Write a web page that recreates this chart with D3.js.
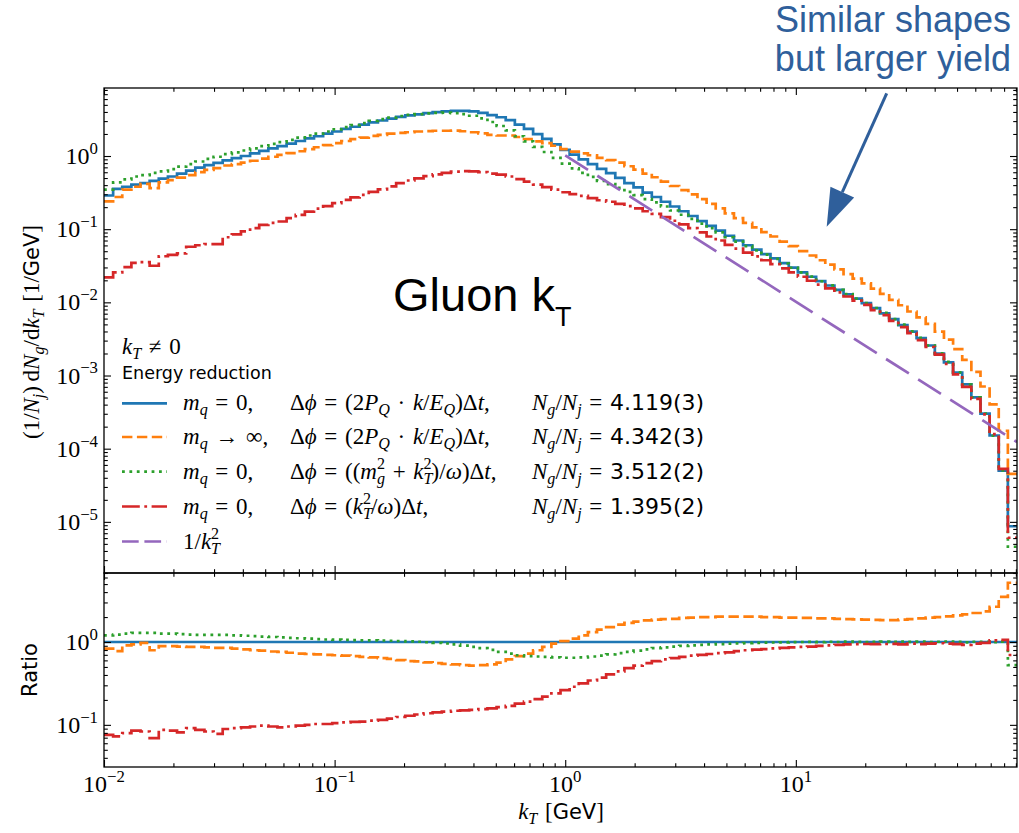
<!DOCTYPE html>
<html>
<head>
<meta charset="utf-8">
<script src="https://cdn.jsdelivr.net/npm/d3@7"></script>
<style>
  body { margin: 0; background: #fff; }
  svg { display: block; }
</style>
</head>
<body>
<svg id="chart" width="1019" height="833"></svg>
<script>
// ---- binning of the kT histograms (log-spaced bins) ----
const kTMin = 0.01, kTMax = 91, nBins = 100;
const binEdges = d3.range(nBins + 1).map(i => kTMin * Math.pow(kTMax / kTMin, i / nBins));

// ---- gluon kT spectrum, m_q = 0 reference (log10 of 1/N_j dN_g/dkT per bin) ----
const log10YieldMq0 = [
  -0.54, -0.45, -0.42, -0.39, -0.37, -0.34, -0.31, -0.28, -0.24, -0.20,
  -0.16, -0.125, -0.095, -0.06, -0.03, 0.00, 0.035, 0.07, 0.105, 0.135,
  0.17, 0.205, 0.24, 0.27, 0.305, 0.335, 0.37, 0.40, 0.43, 0.46,
  0.485, 0.51, 0.535, 0.555, 0.57, 0.585, 0.60, 0.61, 0.617, 0.618,
  0.61, 0.59, 0.56, 0.53, 0.49, 0.43, 0.37, 0.30, 0.235, 0.16,
  0.085, 0.02, -0.045, -0.11, -0.175, -0.235, -0.30, -0.37, -0.43, -0.50,
  -0.56, -0.625, -0.69, -0.755, -0.82, -0.89, -0.955, -1.02, -1.09, -1.155,
  -1.22, -1.28, -1.34, -1.40, -1.465, -1.525, -1.59, -1.65, -1.71, -1.77,
  -1.83, -1.89, -1.95, -2.01, -2.08, -2.15, -2.23, -2.31, -2.40, -2.49,
  -2.59, -2.70, -2.82, -2.96, -3.12, -3.30, -3.52, -3.82, -4.30, -5.06
];

// ---- log10 of the ratio to the m_q = 0 reference, per bin ----
const log10RatioMqInf = [
  -0.08, -0.11, -0.04, -0.03, -0.01, -0.10, -0.05, -0.05, -0.055, -0.06,
  -0.06, -0.065, -0.07, -0.07, -0.08, -0.09, -0.10, -0.105, -0.115, -0.12,
  -0.13, -0.14, -0.145, -0.15, -0.155, -0.16, -0.165, -0.17, -0.18, -0.185,
  -0.195, -0.205, -0.22, -0.23, -0.235, -0.245, -0.255, -0.265, -0.27, -0.28,
  -0.285, -0.28, -0.27, -0.25, -0.21, -0.17, -0.14, -0.10, -0.06, -0.02,
  0.01, 0.04, 0.08, 0.12, 0.15, 0.18, 0.21, 0.23, 0.245, 0.26,
  0.27, 0.275, 0.28, 0.29, 0.295, 0.30, 0.30, 0.305, 0.305, 0.305,
  0.305, 0.305, 0.30, 0.30, 0.295, 0.293, 0.29, 0.29, 0.285, 0.285,
  0.28, 0.275, 0.273, 0.27, 0.268, 0.265, 0.265, 0.27, 0.275, 0.285,
  0.295, 0.30, 0.31, 0.32, 0.333, 0.35, 0.37, 0.425, 0.545, 0.715
];
const log10RatioMgKt = [
  0.08, 0.09, 0.10, 0.11, 0.11, 0.11, 0.10, 0.10, 0.095, 0.09,
  0.085, 0.085, 0.085, 0.085, 0.08, 0.075, 0.07, 0.065, 0.06, 0.055,
  0.05, 0.045, 0.04, 0.035, 0.03, 0.028, 0.025, 0.022, 0.02, 0.02,
  0.018, 0.015, 0.012, 0.008, 0.003, -0.003, -0.01, -0.018, -0.03, -0.045,
  -0.06, -0.075, -0.095, -0.12, -0.14, -0.16, -0.17, -0.175, -0.18, -0.185,
  -0.19, -0.19, -0.185, -0.175, -0.165, -0.15, -0.135, -0.12, -0.105, -0.09,
  -0.075, -0.065, -0.055, -0.048, -0.04, -0.035, -0.03, -0.025, -0.02, -0.016,
  -0.013, -0.01, -0.008, -0.006, -0.004, -0.002, 0.0, 0.002, -0.002, 0.003,
  0.0, 0.004, 0.002, -0.002, 0.003, 0.005, 0.001, 0.006, 0.002, 0.004,
  0.0, 0.003, 0.006, 0.002, -0.004, 0.003, 0.001, -0.003, 0.004, -0.28
];
const log10RatioKt = [
  -1.12, -1.14, -1.10, -1.07, -1.08, -1.16, -1.06, -1.07, -1.09, -1.04,
  -1.06, -1.08, -1.11, -1.05, -1.04, -1.03, -1.02, -1.01, -1.02, -1.03,
  -1.02, -1.01, -1.00, -0.99, -0.99, -0.98, -0.97, -0.965, -0.96, -0.95,
  -0.94, -0.925, -0.905, -0.89, -0.875, -0.86, -0.85, -0.84, -0.83, -0.825,
  -0.82, -0.81, -0.80, -0.785, -0.77, -0.745, -0.72, -0.69, -0.66, -0.62,
  -0.58, -0.54, -0.50, -0.465, -0.43, -0.39, -0.355, -0.315, -0.285, -0.255,
  -0.23, -0.21, -0.195, -0.18, -0.165, -0.155, -0.145, -0.135, -0.125, -0.11,
  -0.10, -0.092, -0.085, -0.078, -0.072, -0.065, -0.06, -0.055, -0.048, -0.04,
  -0.035, -0.03, -0.026, -0.024, -0.025, -0.024, -0.022, -0.03, -0.02, -0.025,
  -0.02, -0.015, -0.02, -0.025, -0.035, -0.02, -0.01, 0.02, 0.025, -0.157
];

// ---- 1/kT^2 reference line (end points) ----
const invKt2K = [1, 91];
const invKt2V = [1.02, 1.23e-4];

// ---- legend figures ----
const multiplicity = ["4.119(3)", "4.342(3)", "3.512(2)", "1.395(2)"];

// ---- axis tick values ----
const xMajorTicks = [0.01, 0.1, 1, 10];
const xTickExponents = ["\u22122", "\u22121", "0", "1"];
const yMainMajorTicks = [1e-5, 1e-4, 1e-3, 1e-2, 1e-1, 1];
const yMainExponents = ["\u22125", "\u22124", "\u22123", "\u22122", "\u22121", "0"];
const yRatioMajorTicks = [0.1, 1];
const yRatioExponents = ["\u22121", "0"];

// ---------------------------------------------------------------
const SERIF = "'Liberation Serif', 'DejaVu Serif', serif";
const SANS = "'DejaVu Sans', sans-serif";
const ARIAL = "'Liberation Sans', Arial, sans-serif";

const svg = d3.select("#chart");
const L = 104, R = 1017, mainTop = 88, mainBottom = 573, ratioBottom = 767;

const x = d3.scaleLog().domain([kTMin, kTMax]).range([L, R]);
const yMain = d3.scaleLog().domain([2e-6, 8.5]).range([mainBottom, mainTop]);
const yRatio = d3.scaleLog().domain([0.031, 6.8]).range([ratioBottom, mainBottom]);

const pow10 = v => Math.pow(10, v);
const yieldMq0 = log10YieldMq0.map(pow10);
const ratioMqInf = log10RatioMqInf.map(pow10);
const ratioMgKt = log10RatioMgKt.map(pow10);
const ratioKt = log10RatioKt.map(pow10);

const series = [
  { color: "#1f77b4", dash: null,           main: yieldMq0,                                 ratio: yieldMq0.map(v => v / v) },
  { color: "#ff7f0e", dash: "10.4,4.5",     main: yieldMq0.map((v, i) => v * ratioMqInf[i]), ratio: ratioMqInf },
  { color: "#2ca02c", dash: "2.8,4.6",      main: yieldMq0.map((v, i) => v * ratioMgKt[i]),  ratio: ratioMgKt },
  { color: "#d62728", dash: "17.8,4.5,2.8,4.5", main: yieldMq0.map((v, i) => v * ratioKt[i]), ratio: ratioKt }
];
const LW = 2.7;

// clip regions
const defs = svg.append("defs");
defs.append("clipPath").attr("id", "clipMain").append("rect")
  .attr("x", L).attr("y", mainTop).attr("width", R - L).attr("height", mainBottom - mainTop);
defs.append("clipPath").attr("id", "clipRatio").append("rect")
  .attr("x", L).attr("y", mainBottom).attr("width", R - L).attr("height", ratioBottom - mainBottom);

function stepPoints(vals) {
  const pts = [];
  vals.forEach((v, i) => { pts.push([binEdges[i], v]); pts.push([binEdges[i + 1], v]); });
  return pts;
}

function drawPanel(yScale, key, clipId) {
  const g = svg.append("g").attr("clip-path", `url(#${clipId})`);
  const line = d3.line().x(d => x(d[0])).y(d => yScale(Math.max(d[1], 1e-9)));
  series.forEach(s => {
    g.append("path")
      .attr("d", line(stepPoints(s[key])))
      .attr("fill", "none")
      .attr("stroke", s.color)
      .attr("stroke-width", LW)
      .attr("stroke-linejoin", "miter")
      .attr("stroke-dasharray", s.dash);
  });
  return g;
}

const mainG = drawPanel(yMain, "main", "clipMain");
// 1/kT^2
mainG.append("path")
  .attr("d", d3.line().x(d => x(d[0])).y(d => yMain(d[1]))(invKt2K.map((k, i) => [k, invKt2V[i]])))
  .attr("fill", "none").attr("stroke", "#9467bd").attr("stroke-width", LW)
  .attr("stroke-dasharray", "27,11");

drawPanel(yRatio, "ratio", "clipRatio");

// ---- axes: inward ticks on all four sides ----
function minorTicks(domain) {
  const out = [];
  const lo = Math.floor(Math.log10(domain[0])), hi = Math.ceil(Math.log10(domain[1]));
  for (let e = lo; e <= hi; e++) for (let m = 2; m <= 9; m++) {
    const v = m * Math.pow(10, e);
    if (v >= domain[0] && v <= domain[1]) out.push(v);
  }
  return out;
}
function ticksGroup(axis, tx, ty) {
  const g = svg.append("g").attr("transform", `translate(${tx},${ty})`).call(axis);
  g.select(".domain").remove();
  g.selectAll("line").attr("stroke", "#000").attr("stroke-width", 1.1);
  g.selectAll("text").remove();
}
function frameAxes(yScale, yMajors, top, bottom) {
  const xm = minorTicks(x.domain()), ym = minorTicks(yScale.domain());
  [[d3.axisBottom, bottom], [d3.axisTop, top]].forEach(([ax, yy]) => {
    ticksGroup(ax(x).tickValues(xMajorTicks).tickSize(-7).tickFormat(""), 0, yy);
    ticksGroup(ax(x).tickValues(xm).tickSize(-3.8).tickFormat(""), 0, yy);
  });
  [[d3.axisLeft, L], [d3.axisRight, R]].forEach(([ax, xx]) => {
    ticksGroup(ax(yScale).tickValues(yMajors).tickSize(-7).tickFormat(""), xx, 0);
    ticksGroup(ax(yScale).tickValues(ym).tickSize(-3.8).tickFormat(""), xx, 0);
  });
  svg.append("rect").attr("x", L).attr("y", top).attr("width", R - L).attr("height", bottom - top)
    .attr("fill", "none").attr("stroke", "#000").attr("stroke-width", 1.3);
}
frameAxes(yMain, yMainMajorTicks, mainTop, mainBottom);
frameAxes(yRatio, yRatioMajorTicks, mainBottom, ratioBottom);

// ---- mixed math text helper ----
// parts: [text, style]; style 'i' italic serif, 'r' roman serif, 's' sans;
// prefix '_' subscript, '^' superscript, suffix '!' stacks over previous script
function drawMath(sel, px, py, parts, size, anchor, extra, sansSize) {
  const t = sel.append("text").attr("x", px).attr("y", py)
    .attr("text-anchor", anchor || "start").attr("fill", "#000");
  if (extra) extra(t);
  let shift = 0, prev = null;
  parts.forEach(([txt, st]) => {
    const level = st[0] === "_" ? -1 : st[0] === "^" ? 1 : 0;
    const stack = st.endsWith("!");
    const kind = st.replace(/[_^!]/g, "");
    const base = kind === "s" && sansSize ? sansSize : size;
    const fs = level ? base * 0.7 : base;
    const target = level === -1 ? size * 0.22 : level === 1 ? -size * 0.42 : 0;
    const ts = t.append("tspan").text(txt)
      .attr("font-size", fs)
      .attr("font-family", kind === "s" ? SANS : SERIF)
      .attr("font-style", kind === "i" ? "italic" : "normal")
      .attr("dy", target - shift);
    if (stack && prev) ts.attr("dx", -prev.getComputedTextLength());
    shift = target; prev = ts.node();
  });
  return t;
}

// tick labels
const TICK_FS = 24;
xMajorTicks.forEach((v, i) => {
  drawMath(svg, x(v), 792, [["10", "r"], [xTickExponents[i], "^r"]], TICK_FS, "middle");
});
yMainMajorTicks.forEach((v, i) => {
  drawMath(svg, 98, yMain(v) + 8, [["10", "r"], [yMainExponents[i], "^r"]], TICK_FS, "end");
});
yRatioMajorTicks.forEach((v, i) => {
  drawMath(svg, 98, yRatio(v) + 8, [["10", "r"], [yRatioExponents[i], "^r"]], TICK_FS, "end");
});

// axis titles
drawMath(svg, 561, 819, [["k", "i"], ["T", "_i"], ["\u2004[", "r"], ["GeV", "s"], ["]", "r"]], 23, "middle", null, 21);
drawMath(svg, 0, 0, [["(1/", "r"], ["N", "i"], ["j", "_i"], [")\u2009d", "r"], ["N", "i"], ["g", "_i"],
  ["/d", "r"], ["k", "i"], ["T", "_i"], ["\u2004[1/", "r"], ["GeV", "s"], ["]", "r"]], 23, "middle",
  t => t.attr("transform", "translate(39,332) rotate(-90)"), 21);
svg.append("text").attr("transform", "translate(37,670) rotate(-90)")
  .attr("text-anchor", "middle").attr("font-family", SANS).attr("font-size", 21).text("Ratio");

// ---- legend ----
const LEG_FS = 23, LEG_SANS = 22;
const legX = 122, legLen = 45;
drawMath(svg, legX, 354, [["k", "i"], ["T", "_i"], ["\u2004\u2260\u20040", "r"]], LEG_FS);
svg.append("text").attr("x", legX).attr("y", 379).attr("font-family", SANS).attr("font-size", 17.5)
  .text("Energy reduction");

const eq = "\u2004=\u2004";
const rowsCol1 = [
  [["m", "i"], ["q", "_i"], [eq + "0,", "r"]],
  [["m", "i"], ["q", "_i"], ["\u2004\u2192\u2004\u221e,", "r"]],
  [["m", "i"], ["q", "_i"], [eq + "0,", "r"]],
  [["m", "i"], ["q", "_i"], [eq + "0,", "r"]],
  [["1/", "r"], ["k", "i"], ["T", "_i"], ["2", "^r!"]]
];
const phiPQ = [["\u0394", "r"], ["\u03d5", "i"], [eq + "(2", "r"], ["P", "i"], ["Q", "_i"], ["\u2004\u00b7\u2004", "r"],
  ["k", "i"], ["/", "r"], ["E", "i"], ["Q", "_i"], [")\u0394", "r"], ["t", "i"], [",", "r"]];
const rowsCol2 = [
  phiPQ,
  phiPQ,
  [["\u0394", "r"], ["\u03d5", "i"], [eq + "((", "r"], ["m", "i"], ["g", "_i"], ["2", "^r!"], ["\u2004+\u2004", "r"],
   ["k", "i"], ["T", "_i"], ["2", "^r!"], [")/", "r"], ["\u03c9", "i"], [")\u0394", "r"], ["t", "i"], [",", "r"]],
  [["\u0394", "r"], ["\u03d5", "i"], [eq + "(", "r"], ["k", "i"], ["T", "_i"], ["2", "^r!"], ["/", "r"],
   ["\u03c9", "i"], [")\u0394", "r"], ["t", "i"], [",", "r"]],
  null
];
const legendColors = ["#1f77b4", "#ff7f0e", "#2ca02c", "#d62728", "#9467bd"];
const legendDash = [null, "10.4,4.5", "2.8,4.6", "17.8,4.5,2.8,4.5", "16.7,5.7"];
const rowY = [403.3, 437, 471.7, 506.5, 541.5];
rowY.forEach((cy, r) => {
  svg.append("line").attr("x1", legX).attr("x2", legX + legLen).attr("y1", cy).attr("y2", cy)
    .attr("stroke", legendColors[r]).attr("stroke-width", LW).attr("stroke-dasharray", legendDash[r]);
  drawMath(svg, 183, cy + 7, rowsCol1[r], LEG_FS);
  if (rowsCol2[r]) drawMath(svg, 290, cy + 7, rowsCol2[r], LEG_FS);
  if (r < 4) drawMath(svg, 532, cy + 7, [["N", "i"], ["g", "_i"], ["/", "r"], ["N", "i"], ["j", "_i"],
    [eq, "r"], [multiplicity[r], "s"]], LEG_FS, "start", null, LEG_SANS);
});

// ---- in-plot title ----
const title = svg.append("text").attr("x", 393).attr("y", 311).attr("font-family", ARIAL).attr("fill", "#000");
title.append("tspan").attr("font-size", 47).text("Gluon k");
title.append("tspan").attr("font-size", 27).attr("dy", 15).text("T");

// ---- annotation with arrow ----
const NOTE = "#2f5f9b";
const note = svg.append("text").attr("text-anchor", "end").attr("font-family", ARIAL)
  .attr("font-size", 36).attr("fill", NOTE);
note.append("tspan").attr("x", 1011).attr("y", 32).text("Similar shapes");
note.append("tspan").attr("x", 1011).attr("y", 71).text("but larger yield");

const tail = [886.7, 93.3], tip = [826.7, 226.7];
const dx = tip[0] - tail[0], dy = tip[1] - tail[1], len = Math.hypot(dx, dy);
const ux = dx / len, uy = dy / len, headLen = 38, headHalf = 13;
const base = [tip[0] - ux * headLen, tip[1] - uy * headLen];
svg.append("line").attr("x1", tail[0]).attr("y1", tail[1]).attr("x2", base[0]).attr("y2", base[1])
  .attr("stroke", NOTE).attr("stroke-width", 3);
svg.append("path")
  .attr("d", `M${tip[0]},${tip[1]}L${base[0] - uy * headHalf},${base[1] + ux * headHalf}L${base[0] + uy * headHalf},${base[1] - ux * headHalf}Z`)
  .attr("fill", NOTE);
</script>
</body>
</html>
